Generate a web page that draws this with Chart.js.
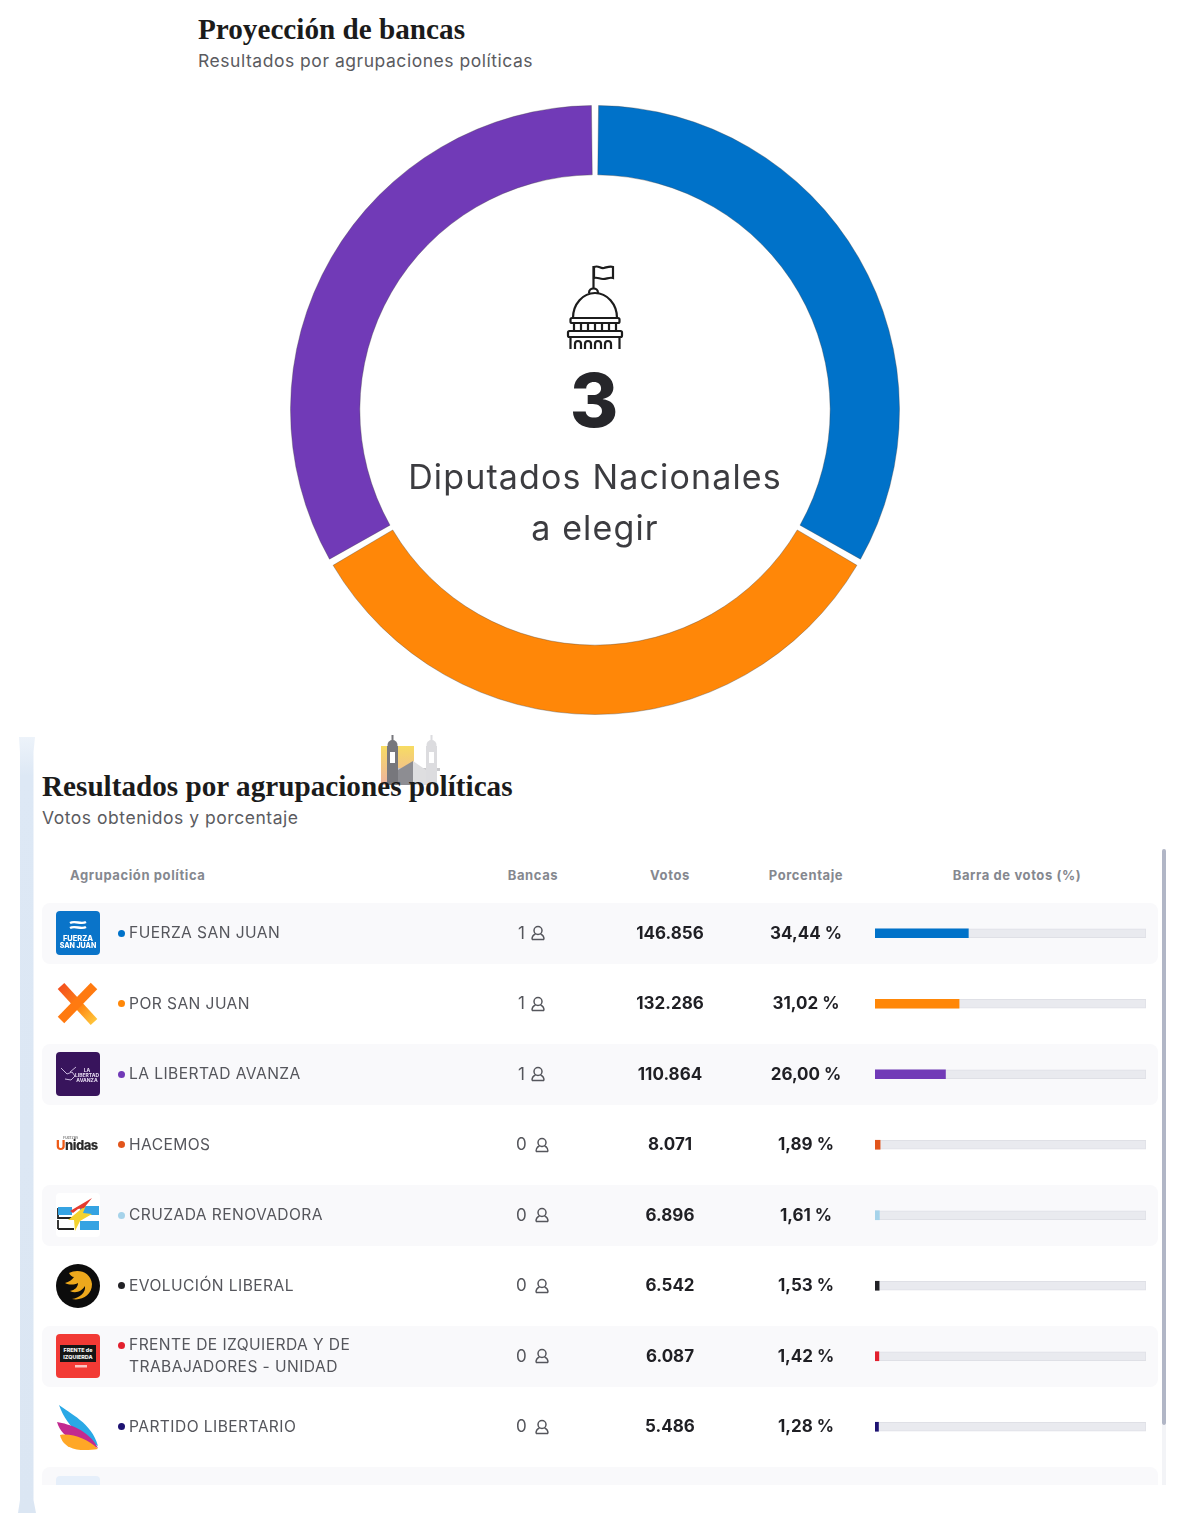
<!DOCTYPE html>
<html lang="es">
<head>
<meta charset="utf-8">
<title>Proyección de bancas</title>
<script src="https://cdn.jsdelivr.net/npm/chart.js@4"></script>
<style>
    html, body { margin: 0; padding: 0; background: #fff; }
    body { width: 1199px; height: 1521px; position: relative; overflow: hidden; font-family: Inter, "Open Sans", sans-serif; color: #333; }
    .abs { position: absolute; white-space: nowrap; }
    .serif { font-family: "Liberation Serif", serif; font-weight: 700; color: #1b1b1b; font-size: 29.2px; }
    .sub { color: #5b5b5f; font-size: 17.5px; letter-spacing: .53px; }
    .center { transform: translateX(-50%); }
    .grande { font-size: 34px; color: #3c3c40; line-height: 42px; letter-spacing: 1.15px; }
    #scrollbar { left: 1162px; top: 849px; width: 4px; height: 576px; background: #b1b6c6; border-radius: 2px; }
    #scrolltrack { left: 1162px; top: 1425px; width: 4px; height: 60px; background: #f3f4f7; }
    #tabla { left: 0; top: 0; width: 1199px; height: 1485px; overflow: hidden; }
    .fila { position: absolute; left: 42px; width: 1116px; height: 61px; border-radius: 8px; }
    .fila.par { background: #f9f9fb; }
    .head { top: 867px; font-size: 13px; font-weight: 700; color: #85888f; letter-spacing: .6px; }
    .txt { position: absolute; font-size: 15.6px; color: #55565c; white-space: nowrap; line-height: 22px; letter-spacing: .42px; }
    .bala { position: absolute; width: 7px; height: 7px; border-radius: 50%; }
    .num { position: absolute; transform: translateX(-50%); font-size: 17px; font-weight: 700; color: #1f1f24; white-space: nowrap; }
    .banca { position: absolute; font-size: 17px; color: #55565c; }
    canvas { position: absolute; }
    svg { position: absolute; overflow: visible; }
</style>
</head>
<body>

<div class="abs serif" style="left:198px;top:13px">Proyección de bancas</div>
<div class="abs sub" style="left:198px;top:50px">Resultados por agrupaciones políticas</div>

<canvas id="donaChart" style="left:290px;top:105px;width:610px;height:610px" width="610" height="610"></canvas>

<!-- capitolio -->
<svg style="left:500px;top:250px" width="200" height="200" viewBox="500 250 200 200" fill="none" stroke="#1c1c1c" stroke-width="2.2">
    <path d="M593.5 266V289"/>
    <path d="M594 267c5-2 6 2 10 1s6-2 9-1v11c-4-1-6 1-10 1s-5-2-9-1z"/>
    <path d="M589 293c0-6 9-6 9 0"/>
    <path d="M573 318c0-14 10-25 22-25s22 11 22 25z"/>
    <rect x="570.5" y="318" width="49" height="5" rx="1.5"/>
    <path d="M574 323v8M581 323v8M588 323v8M595 323v8M602 323v8M609 323v8M616 323v8"/>
    <rect x="568" y="331" width="54" height="6" rx="1.5"/>
    <path d="M570.5 337v12M619.5 337v12"/>
    <path d="M575 349v-5c0-4 6-4 6 0v5M585 349v-5c0-4 6-4 6 0v5M595 349v-5c0-4 6-4 6 0v5M605 349v-5c0-4 6-4 6 0v5"/>
</svg>

<div class="abs center" style="left:594px;top:354px;font-size:74px;font-weight:800;color:#26262a;line-height:92px">3</div>
<div class="abs center grande" style="left:595px;top:456px">Diputados Nacionales</div>
<div class="abs center grande" style="left:595px;top:507px">a elegir</div>

<!-- barra lateral -->
<svg style="left:0;top:0" width="60" height="1521" viewBox="0 0 60 1521">
    <defs><linearGradient id="gradBarra" x1="0" y1="0" x2="0" y2="1"><stop offset="0" stop-color="#edf3fa"/><stop offset=".05" stop-color="#dde8f5"/><stop offset="1" stop-color="#dbe6f3"/></linearGradient></defs>
    <path d="M19 737H35L33.5 752V1500L36 1513H18L20 1500V752z" fill="url(#gradBarra)" stroke="none"/>
</svg>

<!-- iglesia de fondo -->
<svg style="left:370px;top:730px" width="80" height="60" viewBox="370 730 80 60">
    <defs><linearGradient id="gradIglesia" x1="0" y1="0" x2="0" y2="1"><stop offset="0" stop-color="#f7dc62"/><stop offset="1" stop-color="#eeb2a0"/></linearGradient></defs>
    <rect x="381" y="746" width="33" height="39" fill="url(#gradIglesia)"/>
    <rect x="396" y="768" width="44" height="3" fill="#c9c9cc"/>
    <rect x="387" y="746" width="11" height="39" fill="#77777c"/>
    <circle cx="392.500" cy="745" r="5" fill="#77777c"/>
    <rect x="391.500" y="735" width="2" height="6" fill="#77777c"/>
    <rect x="390" y="752" width="5" height="11" fill="#fff"/>
    <rect x="426" y="746" width="11" height="39" fill="#dcdcdf"/>
    <circle cx="431.500" cy="745" r="5" fill="#dcdcdf"/>
    <rect x="430.500" y="735" width="2" height="6" fill="#dcdcdf"/>
    <rect x="429" y="752" width="5" height="11" fill="#fff"/>
    <path d="M398 785V770l15-9v24z" fill="#8d8d92"/>
    <path d="M413 761l13 9v15h-13z" fill="#dedee0"/>
</svg>

<div class="abs serif" style="left:42px;top:770px">Resultados por agrupaciones políticas</div>
<div class="abs sub" style="left:42px;top:807px">Votos obtenidos y porcentaje</div>

<div class="abs head" style="left:70px">Agrupación política</div>
<div class="abs head center" style="left:533px">Bancas</div>
<div class="abs head center" style="left:670px">Votos</div>
<div class="abs head center" style="left:806px">Porcentaje</div>
<div class="abs head center" style="left:1017px">Barra de votos (%)</div>

<div class="abs" id="tabla"></div>
<div class="abs" id="scrolltrack"></div>
<div class="abs" id="scrollbar"></div>

<canvas id="barraChart" style="left:875px;top:898px;width:271px;height:564px" width="271" height="564"></canvas>

<script>
// Datos
const agrupaciones = ['FUERZA SAN JUAN', 'POR SAN JUAN', 'LA LIBERTAD AVANZA', 'HACEMOS', 'CRUZADA RENOVADORA', 'EVOLUCIÓN LIBERAL', 'FRENTE DE IZQUIERDA Y DE|TRABAJADORES - UNIDAD', 'PARTIDO LIBERTARIO'];
const bancas = [1, 1, 1, 0, 0, 0, 0, 0];
const votos = ['146.856', '132.286', '110.864', '8.071', '6.896', '6.542', '6.087', '5.486'];
const porcentajes = [34.44, 31.02, 26.00, 1.89, 1.61, 1.53, 1.42, 1.28];
const colores = ['#0072c9', '#ff8708', '#713ab7', '#e2551c', '#a6d3ea', '#222226', '#e2202e', '#1d1272'];

const filaAlto = 70.57;
const filaCentro = 933;

// Logos simplificados, viewBox 44x44
const logos = [
    '<rect width="44" height="44" rx="4" fill="#0a74c9"/><path d="M14 12c5-3 11 2 16-1M14 17c5-3 11 2 16-1" stroke="#fff" stroke-width="2.4" fill="none"/><text x="22" y="30" font-size="7.5" font-weight="800" fill="#fff" text-anchor="middle">FUERZA</text><text x="22" y="37" font-size="7" font-weight="800" fill="#fff" text-anchor="middle">SAN JUAN</text>',
    '<defs><linearGradient id="gradX" x1="0" y1="0" x2="1" y2="1"><stop offset="0" stop-color="#f4511e"/><stop offset=".6" stop-color="#ff8a14"/><stop offset="1" stop-color="#ffc43a"/></linearGradient></defs><path d="M5 4L38 40" stroke="url(#gradX)" stroke-width="9"/><path d="M38 4L5 38" stroke="#ff7a10" stroke-width="9"/>',
    '<rect width="44" height="44" rx="4" fill="#38145c"/><path d="M5 16l6 6 5-2 3 4-4 4-6-1M14 20l6-5" stroke="#c9b7dd" stroke-width="1" fill="none"/><text x="31" y="20" font-size="5" font-weight="700" fill="#e8def2" text-anchor="middle">LA</text><text x="31" y="25" font-size="5" font-weight="700" fill="#e8def2" text-anchor="middle">LIBERTAD</text><text x="31" y="30" font-size="5" font-weight="700" fill="#e8def2" text-anchor="middle">AVANZA</text>',
    '<text x="0" y="27" font-size="13" font-weight="800" fill="#2b2b2b" letter-spacing="-.5"><tspan fill="#ee5a16">U</tspan>nidas</text><text x="7" y="16" font-size="4" fill="#555">Fuerzas</text>',
    '<rect x="0" y="0" width="44" height="44" rx="4" fill="#fff"/><path d="M2 15v10h14M2 36h16M2 27v9" stroke="#222" stroke-width="1.8" fill="none"/><rect x="2" y="14" width="14" height="8" fill="#35a3e2"/><rect x="24" y="13" width="19" height="9" fill="#35a3e2"/><rect x="24" y="28" width="19" height="9" fill="#35a3e2"/><path d="M12 27L30 12l-3 8 9 1-12 7-5 10-1-11z" fill="#f4d22e"/><path d="M14 18L36 5l-8 10-6 1-5 4z" fill="#e53a2e"/>',
    '<circle cx="22" cy="22" r="22" fill="#0c0c0c"/><path d="M13 9c9-5 22-1 23 11 0 11-10 17-20 15 7-1 14-6 13-13-3 5-9 8-15 5 5-1 8-4 8-8-4 2-9 2-13 0 4-1 7-3 9-6-2 0-4-2-5-4z" fill="#eda81c"/>',
    '<rect width="44" height="44" rx="4" fill="#f23a35"/><rect x="4" y="11" width="36" height="17" fill="#151515"/><text x="22" y="18" font-size="5.4" font-weight="800" fill="#f2f2f2" text-anchor="middle">FRENTE de</text><text x="22" y="25" font-size="5.4" font-weight="800" fill="#f2f2f2" text-anchor="middle">IZQUIERDA</text><rect x="19" y="31" width="12" height="2.500" fill="#fff" opacity=".7"/>',
    '<path d="M3 0c10 8 33 18 39 41C30 34 12 25 3 0z" fill="#2aa9e6"/><path d="M1 17c12 2 32 8 41 26C28 38 6 36 1 17z" fill="#c22a90"/><path d="M4 30c12-2 28 4 38 14-14 2-34 3-38-14z" fill="#ffa726"/>'
];

const tabla = document.getElementById('tabla');

agrupaciones.forEach((nombre, i) => {
    const cy = filaCentro + filaAlto * i;

    const fila = document.createElement('div');
    fila.className = 'fila' + (i % 2 === 0 ? ' par' : '');
    fila.style.top = (cy - 30.5) + 'px';
    tabla.appendChild(fila);

    const svg = document.createElementNS('http://www.w3.org/2000/svg', 'svg');
    svg.setAttribute('viewBox', '0 0 44 44');
    svg.setAttribute('width', 44);
    svg.setAttribute('height', 44);
    svg.style.left = '55.5px';
    svg.style.top = (cy - 22) + 'px';
    svg.innerHTML = logos[i];
    tabla.appendChild(svg);

    const lineas = nombre.split('|');
    const bala = document.createElement('div');
    bala.className = 'bala';
    bala.style.left = '117.5px';
    bala.style.top = (cy - 3.5 - (lineas.length > 1 ? 11 : 0)) + 'px';
    bala.style.background = colores[i];
    tabla.appendChild(bala);

    lineas.forEach((linea, j) => {
        const t = document.createElement('div');
        t.className = 'txt';
        t.textContent = linea;
        t.style.left = '129px';
        t.style.top = (cy - 11 + (lineas.length > 1 ? (j === 0 ? -11 : 11) : 0)) + 'px';
        tabla.appendChild(t);
    });

    const b = document.createElement('div');
    b.className = 'banca';
    b.textContent = bancas[i];
    b.style.left = bancas[i] ? '518px' : '516px';
    b.style.top = (cy - 10.5) + 'px';
    tabla.appendChild(b);

    const icono = document.createElementNS('http://www.w3.org/2000/svg', 'svg');
    icono.setAttribute('viewBox', '0 0 16 16');
    icono.setAttribute('width', 16);
    icono.setAttribute('height', 16);
    icono.style.left = (bancas[i] ? 530 : 534) + 'px';
    icono.style.top = (cy - 8) + 'px';
    icono.innerHTML = '<circle cx="8" cy="5.5" r="4" fill="none" stroke="#55565c" stroke-width="1.5"/><path d="M2 14.5c0-3 2-5 3.5-5.5M14 14.5c0-3-2-5-3.5-5.5M2 14.5h12" fill="none" stroke="#55565c" stroke-width="1.5"/>';
    tabla.appendChild(icono);

    const v = document.createElement('div');
    v.className = 'num';
    v.textContent = votos[i];
    v.style.left = '670px';
    v.style.top = (cy - 10.5) + 'px';
    tabla.appendChild(v);

    const p = document.createElement('div');
    p.className = 'num';
    p.textContent = porcentajes[i].toFixed(2).replace('.', ',') + ' %';
    p.style.left = '806px';
    p.style.top = (cy - 10.5) + 'px';
    tabla.appendChild(p);
});

// Fila cortada al final de la tabla
const filaCortada = document.createElement('div');
filaCortada.className = 'fila par';
filaCortada.style.top = (filaCentro + filaAlto * 8 - 30.5) + 'px';
tabla.appendChild(filaCortada);
const logoCortado = document.createElement('div');
logoCortado.style.cssText = 'position:absolute;left:55.5px;width:44px;height:44px;border-radius:4px;background:#e6effa;top:' + (filaCentro + filaAlto * 8 - 22) + 'px';
tabla.appendChild(logoCortado);

// Grafico de bancas
new Chart(document.getElementById('donaChart'), {
    type: 'doughnut',
    data: {
        labels: agrupaciones.slice(0, 3),
        datasets: [{
            data: bancas.slice(0, 3),
            backgroundColor: colores.slice(0, 3),
            borderColor: 'rgba(70, 70, 70, 0.35)',
            borderWidth: 1,
            spacing: 6
        }]
    },
    options: {
        responsive: false,
        animation: false,
        cutout: '77%',
        plugins: { legend: { display: false }, tooltip: { enabled: false } }
    }
});

// Barras de votos
new Chart(document.getElementById('barraChart'), {
    type: 'bar',
    data: {
        labels: agrupaciones,
        datasets: [{
            data: porcentajes,
            backgroundColor: colores,
            barThickness: 9,
            grouped: false,
            order: 1
        }, {
            data: agrupaciones.map(() => 100),
            backgroundColor: '#e9eaef',
            borderColor: '#dfe0e6',
            borderWidth: 1,
            barThickness: 9,
            grouped: false,
            order: 2
        }]
    },
    options: {
        indexAxis: 'y',
        responsive: false,
        animation: false,
        layout: { padding: 0 },
        scales: {
            x: { display: false, min: 0, max: 100 },
            y: { display: false }
        },
        plugins: { legend: { display: false }, tooltip: { enabled: false } }
    }
});
</script>
</body>
</html>
